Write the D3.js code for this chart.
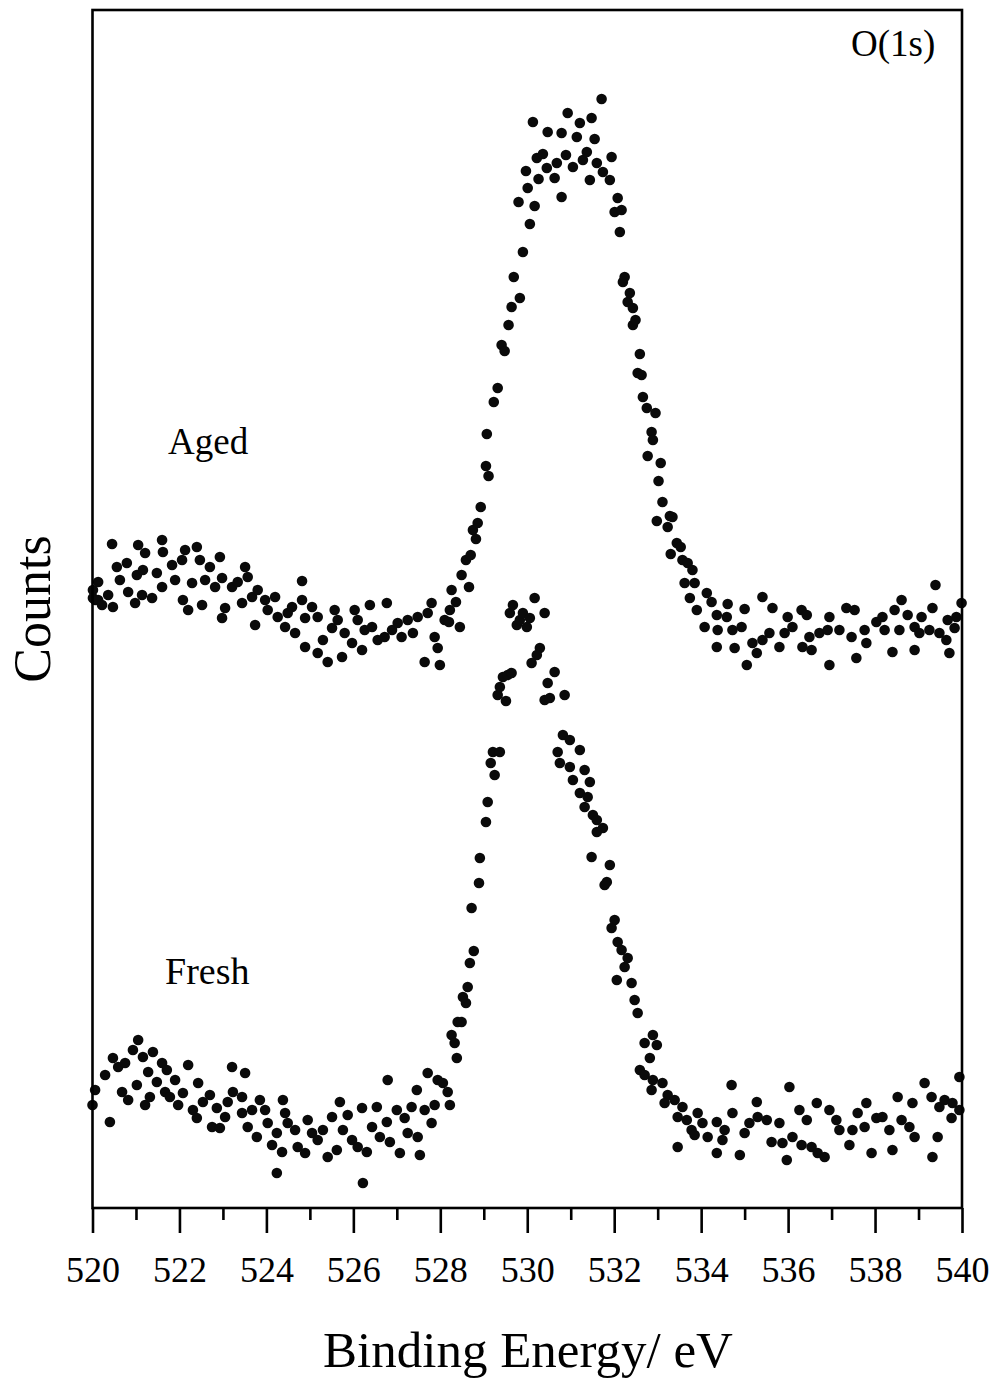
<!DOCTYPE html>
<html><head><meta charset="utf-8">
<script src="https://cdn.jsdelivr.net/npm/d3@7/dist/d3.min.js"></script>
<style>body{margin:0;background:#fff}svg{display:block}</style>
</head><body>
<script>
// Binding energy axis ticks (eV)
const majorTicks = [520,522,524,526,528,530,532,534,536,538,540];
const minorTicks = [521,523,525,527,529,531,533,535,537,539];
const seriesLabels = ["Aged","Fresh"];
const peakLabel = "O(1s)";
// [binding energy eV, counts (arb. units)]
const aged = [
[520.01,618],[520.01,610],[520.06,608],[520.13,626],[520.13,608],[520.22,603],[520.36,613],[520.45,664],[520.47,601],[520.56,641],
[520.63,628],[520.79,645],[520.82,616],[520.98,605],[521.02,633],[521.05,663],[521.14,613],[521.16,638],[521.21,655],[521.37,610],
[521.48,635],[521.60,668],[521.60,621],[521.62,656],[521.83,643],[521.90,628],[522.06,648],[522.08,608],[522.13,658],[522.20,598],
[522.29,625],[522.40,661],[522.47,648],[522.52,603],[522.59,628],[522.70,641],[522.82,621],[522.93,651],[522.98,630],[522.98,590],
[523.05,600],[523.21,621],[523.34,626],[523.44,605],[523.51,641],[523.57,631],[523.67,611],[523.74,583],[523.80,618],[523.97,608],
[524.03,598],[524.20,611],[524.26,591],[524.43,581],[524.49,595],[524.59,601],[524.66,575],[524.82,627],[524.82,608],[524.89,590],
[524.89,561],[525.05,601],[525.18,591],[525.18,555],[525.30,568],[525.41,546],[525.51,580],[525.57,598],[525.64,588],[525.74,551],
[525.80,575],[525.97,565],[526.03,598],[526.10,588],[526.20,558],[526.26,578],[526.38,603],[526.43,581],[526.56,568],[526.72,571],
[526.77,605],[526.89,578],[527.02,585],[527.11,571],[527.25,588],[527.37,575],[527.48,591],[527.64,546],[527.71,595],[527.80,605],
[527.87,571],[527.94,560],[527.99,543],[528.10,588],[528.20,586],[528.22,598],[528.26,618],[528.36,606],[528.45,581],[528.49,633],
[528.59,648],[528.66,621],[528.70,653],[528.75,678],[528.82,669],[528.86,685],[528.93,701],[529.05,742],[529.07,774],[529.11,732],
[529.23,806],[529.32,820],[529.41,863],[529.48,857],[529.57,883],[529.64,901],[529.69,931],[529.83,910],[529.90,956],[530.06,984],
[529.80,1006],[530.17,1002],[530.01,1020],[529.97,1037],[530.26,1029],[530.22,1050],[530.36,1054],[530.13,1086],[530.47,1076],[530.45,1040],
[530.63,1030],[530.68,1045],[530.79,1011],[530.79,1075],[530.89,1053],[530.93,1095],[531.05,1041],[531.14,1071],[531.21,1085],[531.28,1048],
[531.37,1056],[531.44,1028],[531.48,1090],[531.55,1069],[531.60,1045],[531.71,1109],[531.74,1036],[531.90,1028],[531.94,1051],[532.01,996],
[532.08,1010],[532.13,976],[532.17,998],[532.20,926],[532.24,931],[532.31,906],[532.36,915],[532.43,900],[532.43,883],[532.49,888],
[532.59,854],[532.54,835],[532.63,833],[532.66,811],[532.75,800],[532.95,795],[532.86,776],[532.89,768],[532.77,752],[533.07,745],
[533.02,727],[533.11,706],[533.28,692],[533.34,691],[532.98,687],[533.23,681],[533.44,665],[533.53,661],[533.30,654],[533.57,648],
[533.69,645],[533.80,638],[533.62,625],[533.85,625],[533.74,610],[534.13,615],[534.24,606],[533.90,598],[534.08,581],[534.36,593],
[534.61,604],[534.59,591],[534.38,578],[534.36,561],[534.72,578],[534.93,581],[535.00,599],[534.77,560],[535.05,543],[535.28,555],
[535.18,565],[535.41,568],[535.41,611],[535.64,600],[535.57,575],[535.80,561],[535.99,591],[535.92,575],[536.10,581],[536.31,598],
[536.43,593],[536.33,561],[536.54,558],[536.49,571],[536.72,575],[536.95,591],[536.91,578],[536.95,543],[537.18,578],[537.34,600],
[537.53,598],[537.57,550],[537.46,571],[537.76,578],[537.80,565],[538.03,586],[538.17,591],[538.22,578],[538.40,556],[538.45,598],
[538.61,608],[538.56,578],[538.75,593],[538.91,558],[538.91,581],[539.07,591],[539.02,575],[539.32,600],[539.39,623],[539.25,578],
[539.48,575],[539.67,588],[539.71,555],[539.64,568],[539.83,580],[539.87,591],[539.99,605]
];
const fresh = [
[520.00,103],[520.06,118],[520.29,133],[520.40,86],[520.47,150],[520.59,141],[520.68,116],[520.75,145],[520.82,108],[520.93,158],
[521.02,123],[521.05,168],[521.16,151],[521.21,103],[521.28,136],[521.32,111],[521.39,156],[521.48,126],[521.60,145],[521.67,116],
[521.71,138],[521.78,111],[521.90,128],[521.97,103],[522.08,115],[522.20,143],[522.31,98],[522.40,90],[522.43,125],[522.54,106],
[522.70,113],[522.75,81],[522.86,100],[522.93,80],[523.05,91],[523.11,106],[523.21,141],[523.23,116],[523.44,111],[523.44,95],
[523.51,135],[523.57,81],[523.67,98],[523.78,71],[523.85,108],[523.97,98],[524.03,85],[524.13,63],[524.24,75],[524.24,35],
[524.36,56],[524.38,108],[524.43,95],[524.49,85],[524.66,78],[524.72,61],[524.89,55],[524.95,88],[525.05,75],[525.18,68],
[525.30,78],[525.41,51],[525.51,91],[525.62,58],[525.69,106],[525.76,78],[525.87,93],[525.97,68],[526.10,61],[526.20,100],
[526.22,25],[526.31,56],[526.43,81],[526.54,101],[526.61,71],[526.77,86],[526.79,128],[526.84,66],[527.00,98],[527.07,55],
[527.18,90],[527.25,75],[527.34,101],[527.46,118],[527.48,71],[527.53,53],[527.64,98],[527.71,135],[527.80,85],[527.87,103],
[527.94,128],[528.06,125],[528.17,116],[528.22,103],[528.26,173],[528.33,165],[528.38,150],[528.40,186],[528.49,186],[528.59,205],
[528.52,211],[528.63,221],[528.68,245],[528.77,257],[528.72,300],[528.89,325],[528.91,350],[529.05,386],[529.09,406],[529.16,445],
[529.25,433],[529.21,456],[529.37,456],[529.32,513],[529.37,521],[529.44,531],[529.51,507],[529.55,533],[529.64,535],[529.60,595],
[529.67,603],[529.76,583],[529.83,588],[529.90,595],[529.99,581],[530.06,590],[530.17,610],[530.40,595],[530.29,560],[530.22,553],
[530.10,545],[530.63,536],[530.47,525],[530.40,508],[530.52,510],[530.86,513],[530.82,473],[530.98,468],[531.21,458],[530.70,456],
[530.75,445],[530.98,441],[531.32,438],[531.05,428],[531.44,426],[531.21,415],[531.39,411],[531.32,401],[531.51,393],[531.60,388],
[531.74,380],[531.60,376],[531.48,351],[531.90,343],[531.78,323],[531.83,326],[532.01,288],[531.94,280],[532.08,266],[532.17,258],
[532.31,250],[532.24,241],[532.06,228],[532.40,225],[532.47,208],[532.54,195],[532.70,165],[532.89,173],[532.98,163],[532.82,150],
[532.59,138],[532.70,133],[532.89,128],[533.11,125],[532.86,118],[533.23,113],[533.16,105],[533.39,108],[533.57,101],[533.46,91],
[533.67,88],[533.92,95],[533.78,78],[534.03,85],[533.85,73],[534.15,71],[533.46,61],[534.36,86],[534.36,55],[534.54,78],
[534.70,123],[534.72,95],[534.49,68],[534.89,53],[535.00,75],[535.11,85],[535.28,106],[535.30,91],[535.51,88],[535.62,66],
[535.80,85],[535.87,65],[535.97,48],[536.03,121],[536.10,71],[536.26,98],[536.31,63],[536.43,88],[536.54,61],[536.66,105],
[536.68,55],[536.84,51],[536.95,98],[537.11,88],[537.18,78],[537.41,63],[537.48,78],[537.60,95],[537.80,105],[537.76,81],
[537.92,55],[538.03,90],[538.17,91],[538.33,78],[538.40,58],[538.52,111],[538.61,88],[538.79,81],[538.86,105],[538.91,71],
[539.14,125],[539.30,111],[539.32,51],[539.44,71],[539.48,101],[539.60,108],[539.76,90],[539.78,105],[539.94,131],[539.94,98]
];

const W = 994, H = 1380;
const svg = d3.select("body").append("svg").attr("width", W).attr("height", H);
const x = d3.scaleLinear().domain([520, 540]).range([92.5, 962]);
const y = d3.scaleLinear().domain([0, 1198]).range([1208, 10]);
const serif = "'Liberation Serif', 'Times New Roman', serif";

// points
const pts = svg.append("g");
[aged, fresh].forEach(s => {
  pts.selectAll(null).data(s).enter().append("circle")
    .attr("cx", d => x(d[0])).attr("cy", d => y(d[1])).attr("r", 5.3).attr("fill", "#0a0a0a");
});

// frame
svg.append("rect").attr("x", x(520)).attr("y", y(1198)).attr("width", x(540) - x(520)).attr("height", y(0) - y(1198))
  .attr("fill", "none").attr("stroke", "#000").attr("stroke-width", 2.6);

// x axis ticks
const gMaj = svg.append("g").attr("transform", `translate(0,${y(0)})`)
  .call(d3.axisBottom(x).tickValues(majorTicks).tickSize(25).tickPadding(23).tickFormat(d3.format("d")));
const gMin = svg.append("g").attr("transform", `translate(0,${y(0)})`)
  .call(d3.axisBottom(x).tickValues(minorTicks).tickSize(12).tickFormat(""));
[gMaj, gMin].forEach(g => {
  g.select(".domain").remove();
  g.selectAll(".tick line").attr("stroke", "#000").attr("stroke-width", 2.6);
});
gMaj.selectAll(".tick text").attr("font-family", serif).attr("font-size", 36).attr("fill", "#000");

// axis titles
svg.append("text").attr("x", 528).attr("y", 1367).attr("text-anchor", "middle")
  .attr("font-family", serif).attr("font-size", 51).text("Binding Energy/ eV");
svg.append("text").attr("transform", "translate(50,609) rotate(-90)").attr("text-anchor", "middle")
  .attr("font-family", serif).attr("font-size", 52).text("Counts");

// labels
svg.append("text").attr("x", 168).attr("y", 454).attr("font-family", serif).attr("font-size", 37).text(seriesLabels[0]);
svg.append("text").attr("x", 165).attr("y", 984).attr("font-family", serif).attr("font-size", 38).text(seriesLabels[1]);
svg.append("text").attr("x", 851).attr("y", 56).attr("font-family", serif).attr("font-size", 37).text(peakLabel);
</script>
</body></html>
